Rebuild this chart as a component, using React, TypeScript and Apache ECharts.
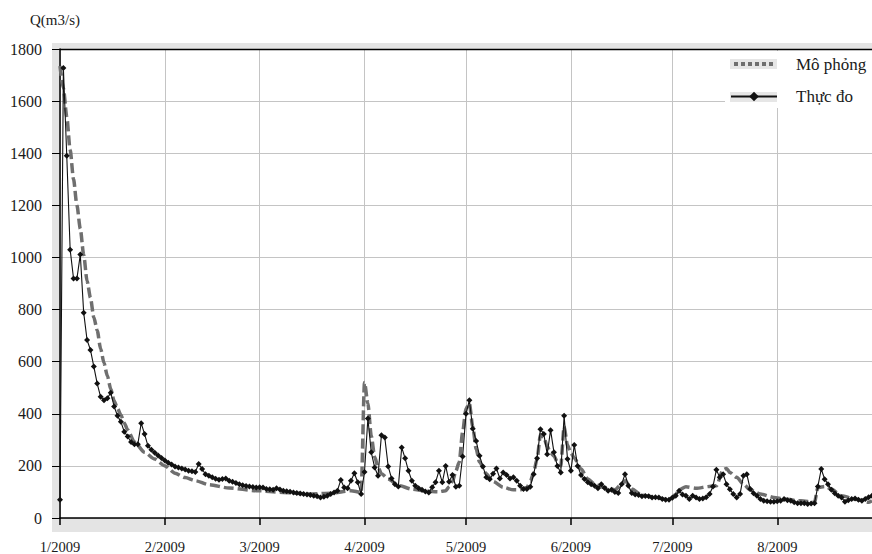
import React, { useEffect, useRef } from "react";
import * as echarts from "echarts";

// Daily categories: 1 Jan 2009 .. 29 Aug 2009 (the visible part of the axis)
const START_YEAR = 2009;
const DAY_COUNT = 241;
const CATEGORIES: string[] = [];
for (let i = 0; i < DAY_COUNT; i++) {
  const d = new Date(Date.UTC(START_YEAR, 0, 1 + i));
  CATEGORIES.push(d.toISOString().slice(0, 10));
}

const TICK_DATES = [
  "2009-01-01", "2009-02-01", "2009-03-01", "2009-04-01",
  "2009-05-01", "2009-06-01", "2009-07-01", "2009-08-01",
];
const TICK_LABELS = ["1/2009", "2/2009", "3/2009", "4/2009", "5/2009", "6/2009", "7/2009", "8/2009"];

const Y_TICKS = [0, 200, 400, 600, 800, 1000, 1200, 1400, 1600, 1800];

const SERIES_NAMES = ["Mô phỏng", "Thực đo"];

// Observed (Thực đo), daily from 1/1/2009
const OBSERVED = [
  70, 1727, 1390, 1030, 919, 919, 1011, 788, 683, 645,
  581, 516, 465, 452, 460, 481, 428, 392, 369, 331,
  313, 292, 283, 283, 364, 322, 277, 262, 250, 240,
  230, 221, 212, 205, 198, 194, 190, 186, 181, 179,
  177, 207, 188, 168, 162, 156, 151, 147, 150, 152,
  143, 139, 134, 130, 126, 123, 121, 119, 117, 118,
  117, 111, 110, 108, 114, 109, 105, 103, 101, 98,
  96, 94, 92, 90, 88, 85, 83, 79, 82, 85,
  92, 98, 105, 146, 117, 114, 143, 172, 137, 92,
  177, 382, 252, 194, 162, 318, 309, 198, 152, 130,
  121, 271, 229, 181, 143, 124, 114, 108, 102, 98,
  118, 137, 181, 137, 200, 139, 165, 120, 124, 236,
  400, 452, 343, 296, 239, 198, 156, 149, 170, 190,
  152, 175, 165, 152, 156, 143, 124, 111, 111, 120,
  168, 229, 341, 322, 245, 337, 252, 200, 175, 392,
  226, 181, 280, 200, 165, 150, 137, 130, 124, 114,
  130, 115, 105, 108, 100, 96, 130, 168, 124, 96,
  90, 88, 83, 84, 83, 79, 80, 79, 73, 70,
  70, 78, 85, 105, 90, 85, 73, 85, 79, 73,
  75, 80, 92, 121, 185, 156, 168, 130, 110, 92,
  79, 92, 162, 168, 111, 95, 85, 73, 66, 64,
  62, 62, 64, 66, 73, 68, 66, 60, 57, 57,
  57, 54, 56, 57, 121, 188, 149, 130, 108, 95,
  85, 79, 62, 68, 73, 75, 70, 66, 73, 80, 85,
];

// Simulated (Mô phỏng): day index (from 1/1/2009) and discharge
const SIM_DAYS = [
  0, 1, 2, 3, 4, 5, 6, 7, 8, 9, 10, 11, 12, 13, 14, 15, 16, 17, 18, 19,
  20, 22, 25, 28, 31, 34, 37, 40, 44, 50, 58, 66, 74, 80, 86, 89,
  90, 91, 92, 93, 94, 95, 97, 100, 104, 108, 112, 114, 115, 116, 117, 118, 119,
  120, 121, 122, 123, 124, 126, 128, 131, 134, 136, 138, 139, 140, 141, 142, 143,
  144, 145, 146, 147, 148, 149, 150, 151, 152, 154, 156, 158, 161, 164, 166, 167,
  169, 172, 176, 180, 182, 183, 185, 188, 192, 194, 196, 197, 198, 200, 202, 204,
  207, 211, 214, 219, 223, 224, 226, 228, 231, 235, 239, 240,
];
const SIM_VALUES = [
  1735, 1650, 1540, 1413, 1300, 1200, 1110, 1010, 910, 845, 770, 720, 650, 595, 545, 495, 450, 420, 395, 365,
  338, 292, 252, 226, 200, 172, 155, 143, 128, 115, 105, 98, 92, 95, 105, 98,
  520, 440, 315, 235, 195, 170, 150, 125, 111, 103, 101, 105, 120, 140, 180, 215, 330,
  420, 440, 350, 265, 215, 170, 140, 118, 108, 108, 117, 140, 175, 226, 320, 310,
  275, 250, 238, 215, 200, 350, 280, 250, 230, 188, 150, 130, 117, 108, 130, 143,
  111, 88, 79, 70, 90, 108, 120, 114, 121, 124, 185, 190, 175, 156, 130, 108,
  92, 79, 73, 66, 60, 117, 121, 111, 85, 73, 60, 66,
];

const SERIF = "Liberation Serif";

export default function App() {
  const ref = useRef<HTMLDivElement>(null);

  useEffect(() => {
    if (!ref.current) return;
    const chart = echarts.init(ref.current, null, { renderer: "svg" });
    const isTick = (_i: number, v: string) => TICK_DATES.indexOf(v) >= 0;

    chart.setOption({
      animation: false,
      backgroundColor: "#ffffff",
      textStyle: { fontFamily: SERIF },
      graphic: [
        {
          type: "rect",
          z: -10,
          shape: { x: 52, y: 43, width: 830, height: 489 },
          style: { fill: "#e4e4e4" },
          silent: true,
        },
        {
          type: "line",
          z: 10,
          shape: { x1: 60, y1: 49.5, x2: 872, y2: 49.5 },
          style: { stroke: "#000", lineWidth: 1.5 },
          silent: true,
        },
        {
          type: "rect",
          z: 3,
          shape: { x: 725, y: 51, width: 150, height: 57 },
          style: { fill: "#ffffff" },
          silent: true,
        },
        {
          type: "rect",
          z: 3,
          shape: { x: 730, y: 59, width: 47, height: 10 },
          style: { fill: "#e6e6e6" },
          silent: true,
        },
        {
          type: "rect",
          z: 3,
          shape: { x: 730, y: 92, width: 47, height: 10 },
          style: { fill: "#e6e6e6" },
          silent: true,
        },
        {
          type: "line",
          z: 5,
          shape: { x1: 734, y1: 64, x2: 776, y2: 64 },
          style: { stroke: "#6f6f6f", lineWidth: 4, lineDash: [4, 3] },
          silent: true,
        },
      ],
      legend: {
        show: true,
        orient: "vertical",
        left: 730,
        top: 56,
        padding: 0,
        itemWidth: 46,
        itemHeight: 12,
        itemGap: 15,
        data: [
          { name: SERIES_NAMES[0], icon: "rect", itemStyle: { color: "rgba(0,0,0,0)", borderWidth: 0 } },
          { name: SERIES_NAMES[1] },
        ],
        textStyle: {
          fontFamily: SERIF,
          fontSize: 17,
          color: "#1a1a1a",
          padding: [0, 0, 0, 14],
        },
      },
      grid: {
        left: 60,
        top: 49,
        right: 0,
        bottom: 35,
        show: true,
        backgroundColor: "#ffffff",
        borderWidth: 0,
      },
      xAxis: {
        type: "category",
        data: CATEGORIES,
        boundaryGap: false,
        axisLine: { show: true, lineStyle: { color: "#000", width: 1.5 } },
        axisTick: {
          show: true,
          interval: isTick,
          length: 7,
          lineStyle: { color: "#000", width: 1.5 },
        },
        axisLabel: {
          interval: isTick,
          margin: 21,
          fontFamily: SERIF,
          fontSize: 14.5,
          color: "#1a1a1a",
          formatter: (v: string) => {
            const k = TICK_DATES.indexOf(v);
            return k >= 0 ? TICK_LABELS[k] : "";
          },
        },
        splitLine: {
          show: true,
          interval: isTick,
          lineStyle: { color: "#c4c4c4", width: 1 },
        },
      },
      yAxis: {
        type: "value",
        min: Y_TICKS[0],
        max: Y_TICKS[Y_TICKS.length - 1],
        interval: Y_TICKS[1] - Y_TICKS[0],
        name: "Q(m3/s)",
        nameLocation: "end",
        nameGap: 22,
        nameTextStyle: {
          fontFamily: SERIF,
          fontSize: 15,
          color: "#1a1a1a",
          padding: [0, 10, 0, 0],
        },
        axisLine: { show: true, lineStyle: { color: "#000", width: 1.5 } },
        axisTick: { show: true, length: 8, lineStyle: { color: "#000" } },
        axisLabel: {
          margin: 18,
          fontFamily: SERIF,
          fontSize: 16,
          color: "#1a1a1a",
          padding: [0, 0, 6, 0],
          formatter: (v: number) => String(v),
        },
        splitLine: { show: true, lineStyle: { color: "#c4c4c4", width: 1 } },
      },
      series: [
        {
          name: SERIES_NAMES[0],
          type: "line",
          data: SIM_DAYS.map((d, i) => [d, SIM_VALUES[i]]),
          symbol: "none",
          smooth: 0.25,
          smoothMonotone: "x",
          lineStyle: { color: "#6f6f6f", width: 3.5, type: [10, 4] },
          itemStyle: { color: "#6f6f6f" },
          z: 2,
        },
        {
          name: SERIES_NAMES[1],
          type: "line",
          data: OBSERVED,
          symbol: "diamond",
          symbolSize: 6,
          showSymbol: true,
          showAllSymbol: true,
          lineStyle: { color: "#111", width: 1.1 },
          itemStyle: { color: "#111" },
          z: 3,
        },
      ],
    });

    return () => chart.dispose();
  }, []);

  return <div ref={ref} style={{ width: 872, height: 554, position: "absolute", left: 0, top: 0 }} />;
}
